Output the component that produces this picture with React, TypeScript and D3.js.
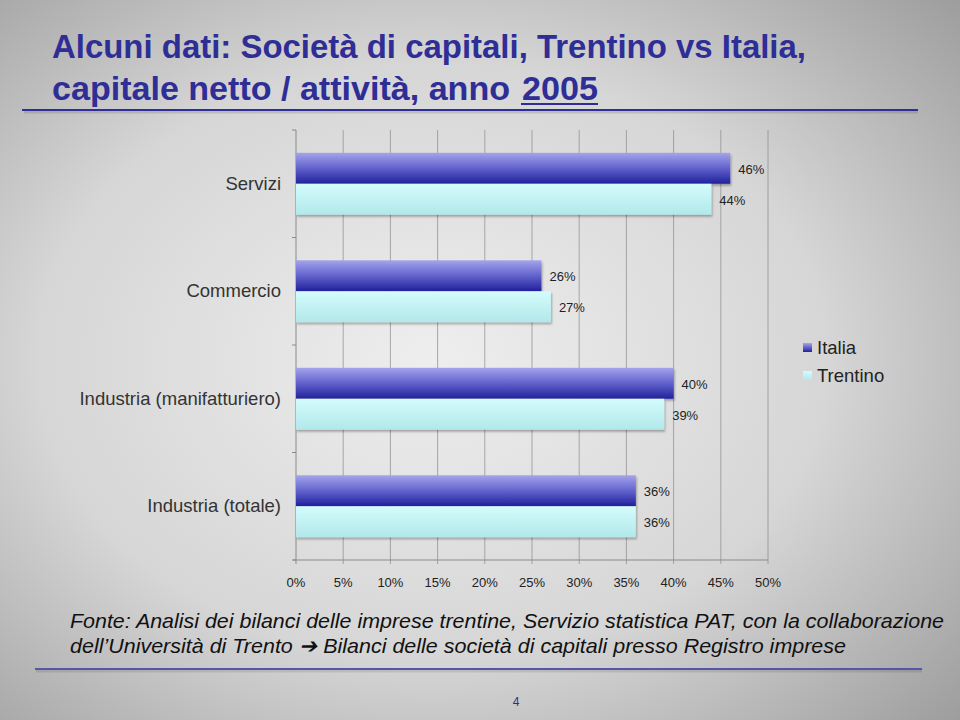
import React from "react";
import * as d3 from "d3";

const categories = ["Servizi", "Commercio", "Industria (manifatturiero)", "Industria (totale)"];
const seriesNames = ["Italia", "Trentino"];
const italia = [0.46, 0.26, 0.40, 0.36];
const trentino = [0.44, 0.27, 0.39, 0.36];
const xTicks = [0, 0.05, 0.1, 0.15, 0.2, 0.25, 0.3, 0.35, 0.4, 0.45, 0.5];
const titleLines = ["Alcuni dati: Società di capitali, Trentino vs Italia,", "capitale netto / attività, anno"];
const titleYear = "2005";
const footLines = [
  "Fonte: Analisi dei bilanci delle imprese trentine, Servizio statistica PAT, con la collaborazione",
  "dell’Università di Trento ➔ Bilanci delle società di capitali presso Registro imprese",
];
const pageNumber = "4";

const W = 960, H = 720;
const left = 296, right = 768, top = 130, bottom = 560;

export default function App() {
  const x = d3.scaleLinear().domain([0, 0.5]).range([left, right]);
  const y0 = d3.scaleBand<string>().domain(categories).range([top, bottom]).padding(0);
  const bw = y0.bandwidth();
  const y1 = d3.scaleBand<string>().domain(seriesNames).range([bw * 0.212, bw * 0.788]).padding(0);
  const pct = d3.format(".0%");
  const values = [italia, trentino];
  const fills = ["url(#gItalia)", "url(#gTrentino)"];
  const font = "'Liberation Sans', Arial, sans-serif";
  const narrow = "'Liberation Sans Narrow', 'Arial Narrow', 'Liberation Sans', sans-serif";

  return (
    <svg width={W} height={H} style={{ position: "absolute", left: 0, top: 0 }} viewBox={`0 0 ${W} ${H}`}>
      <defs>
        <radialGradient id="bg" cx="0.45" cy="0.5" r="0.75">
          <stop offset="0" stopColor="#eeeeee" />
          <stop offset="0.55" stopColor="#d6d6d6" />
          <stop offset="1" stopColor="#9c9c9c" />
        </radialGradient>
        <linearGradient id="gItalia" x1="0" y1="0" x2="0" y2="1">
          <stop offset="0" stopColor="#a4a4ec" />
          <stop offset="0.5" stopColor="#6262cc" />
          <stop offset="1" stopColor="#20209c" />
        </linearGradient>
        <linearGradient id="gTrentino" x1="0" y1="0" x2="0" y2="1">
          <stop offset="0" stopColor="#d4fcfc" />
          <stop offset="1" stopColor="#b2e8ea" />
        </linearGradient>
        <filter id="sh" x="-5%" y="-20%" width="110%" height="150%">
          <feDropShadow dx="1" dy="2" stdDeviation="1.2" floodColor="#000" floodOpacity="0.3" />
        </filter>
      </defs>
      <rect x={0} y={0} width={W} height={H} fill="url(#bg)" />

      {/* Title */}
      <g fill="#2e2e96" fontFamily={narrow} fontWeight="bold" fontSize={33}>
        <text x={52} y={58} textLength={754} lengthAdjust="spacingAndGlyphs">{titleLines[0]}</text>
        <text x={52} y={100} textLength={458} lengthAdjust="spacingAndGlyphs">{titleLines[1]}</text>
        <text x={522} y={100} textLength={76} lengthAdjust="spacingAndGlyphs">{titleYear}</text>
      </g>
      <line x1={521} x2={598} y1={104} y2={104} stroke="#2e2e96" strokeWidth={2} />
      <line x1={24} x2={918} y1={112} y2={112} stroke="#000" strokeOpacity={0.12} strokeWidth={3} />
      <line x1={22} x2={918} y1={110} y2={110} stroke="#2e2e96" strokeWidth={1.8} />

      {/* Gridlines */}
      <g stroke="#8a8a8a" strokeWidth={1}>
        {xTicks.map((t, i) => (
          <line key={i} x1={x(t)} x2={x(t)} y1={top} y2={bottom + 4} strokeOpacity={i === 0 ? 1 : 0.7} />
        ))}
        <line x1={left - 3} x2={right} y1={bottom} y2={bottom} />
        {d3.range(categories.length + 1).map((i) => (
          <line key={"c" + i} x1={left - 4} x2={left} y1={top + i * bw} y2={top + i * bw} />
        ))}
      </g>

      {/* Bars */}
      {categories.map((c, ci) => (
        <g key={c} transform={`translate(0,${y0(c)})`}>
          {seriesNames.map((s, si) => (
            <rect key={s} x={x(0)} y={y1(s)} width={x(values[si][ci]) - x(0)} height={y1.bandwidth()}
              fill={fills[si]} filter="url(#sh)" />
          ))}
          {seriesNames.map((s, si) => (
            <text key={"l" + s} x={x(values[si][ci]) + 8} y={(y1(s) as number) + y1.bandwidth() / 2 + 2}
              dominantBaseline="middle" fontFamily={font} fontSize={13} fill="#222">
              {pct(values[si][ci])}
            </text>
          ))}
          <text x={281} y={bw / 2 + 1} textAnchor="end" dominantBaseline="middle" fontFamily={font}
            fontSize={18.5} fill="#333">{c}</text>
        </g>
      ))}

      {/* X tick labels */}
      <g fontFamily={font} fontSize={13} fill="#222" textAnchor="middle">
        {xTicks.map((t, i) => (
          <text key={i} x={x(t)} y={587}>{pct(t)}</text>
        ))}
      </g>

      {/* Legend */}
      {seriesNames.map((s, i) => (
        <g key={s} transform={`translate(803,${343 + i * 28})`}>
          <rect x={0} y={0} width={9} height={9} fill={fills[i]} />
          <text x={14} y={11} fontFamily={font} fontSize={18.5} fill="#222">{s}</text>
        </g>
      ))}

      {/* Footnote */}
      <g fontFamily={narrow} fontStyle="italic" fontSize={21} fill="#111">
        <text x={70} y={628} textLength={874} lengthAdjust="spacingAndGlyphs">{footLines[0]}</text>
        <text x={70} y={653} textLength={776} lengthAdjust="spacingAndGlyphs">{footLines[1]}</text>
      </g>
      <line x1={36} x2={922} y1={671} y2={671} stroke="#000" strokeOpacity={0.1} strokeWidth={3} />
      <line x1={35} x2={922} y1={669} y2={669} stroke="#5656a6" strokeWidth={2} />
      <text x={516} y={706} textAnchor="middle" fontFamily={font} fontSize={12} fill="#2e2e96">{pageNumber}</text>
    </svg>
  );
}
